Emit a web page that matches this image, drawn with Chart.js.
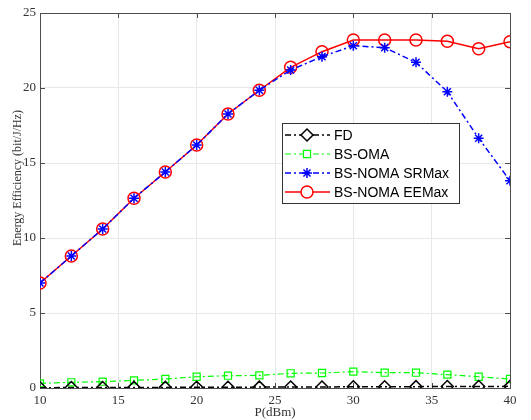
<!DOCTYPE html>
<html>
<head>
<meta charset="utf-8">
<script src="https://cdn.jsdelivr.net/npm/chart.js@4/dist/chart.umd.min.js"></script>
<style>
  body { margin: 0; background: #fff; }
  #wrap { width: 531px; height: 420px; }
</style>
</head>
<body>
<div id="wrap"><canvas id="chart"></canvas></div>
<script>
const power = [10, 12, 14, 16, 18, 20, 22, 24, 26, 28, 30, 32, 34, 36, 38, 40];
const fd = [0.02, 0.03, 0.03, 0.04, 0.04, 0.05, 0.05, 0.06, 0.07, 0.07, 0.08, 0.08, 0.09, 0.10, 0.10, 0.11];
const bsOma = [0.31, 0.38, 0.42, 0.51, 0.60, 0.75, 0.82, 0.84, 0.98, 1.00, 1.09, 1.02, 1.02, 0.89, 0.75, 0.60];
const srMax = [7.0, 8.8, 10.6, 12.65, 14.4, 16.2, 18.27, 19.85, 21.2, 22.09, 22.82, 22.69, 21.71, 19.75, 16.65, 13.82];
const eeMax = [7.0, 8.8, 10.6, 12.65, 14.4, 16.2, 18.27, 19.85, 21.38, 22.42, 23.2, 23.2, 23.2, 23.12, 22.62, 23.09];
const xTicks = [10, 15, 20, 25, 30, 35, 40];
const yTicks = [0, 5, 10, 15, 20, 25];

const dashDot = [6, 3, 2, 3];
const serif = "'Liberation Serif', 'Times New Roman', serif";

const pts = (ys) => power.map((x, i) => ({ x: x, y: ys[i] }));

// MATLAB-like box with inward ticks, plus the y label
const boxPlugin = {
    id: 'box',
    beforeDatasetsDraw(chart) {
        const { ctx, chartArea: a, scales } = chart;
        ctx.save();
        ctx.strokeStyle = '#4d4d4d';
        ctx.lineWidth = 1;
        ctx.strokeRect(a.left + 0.5, a.top + 0.5, a.right - a.left, a.bottom - a.top);
        xTicks.forEach(t => {
            const px = Math.round(scales.x.getPixelForValue(t)) + 0.5;
            ctx.beginPath();
            ctx.moveTo(px, a.bottom); ctx.lineTo(px, a.bottom - 5);
            ctx.moveTo(px, a.top); ctx.lineTo(px, a.top + 5);
            ctx.stroke();
        });
        yTicks.forEach(t => {
            const py = Math.round(scales.y.getPixelForValue(t)) + 0.5;
            ctx.beginPath();
            ctx.moveTo(a.left, py); ctx.lineTo(a.left + 5, py);
            ctx.moveTo(a.right, py); ctx.lineTo(a.right - 5, py);
            ctx.stroke();
        });
        ctx.translate(18, 178);
        ctx.rotate(-Math.PI / 2);
        ctx.fillStyle = '#333';
        ctx.font = '12px ' + serif;
        ctx.textAlign = 'center';
        ctx.textBaseline = 'middle';
        ctx.fillText('Energy Efficiency (bit/J/Hz)', 0, 0);
        ctx.restore();
    }
};

const legendPlugin = {
    id: 'boxLegend',
    afterDraw(chart) {
        const ctx = chart.ctx;
        const x0 = 282, y0 = 123, w = 177, h = 80;
        ctx.save();
        ctx.fillStyle = '#fff';
        ctx.fillRect(x0, y0, w, h);
        ctx.strokeStyle = '#333';
        ctx.lineWidth = 1;
        ctx.strokeRect(x0 + 0.5, y0 + 0.5, w, h);
        ctx.font = "14px 'Liberation Sans', Arial, sans-serif";
        ctx.textBaseline = 'middle';
        chart.data.datasets.forEach((ds, i) => {
            const y = y0 + 12 + i * 19;
            ctx.strokeStyle = ds.borderColor;
            ctx.lineWidth = ds.borderWidth;
            ctx.setLineDash(ds.borderDash || []);
            ctx.beginPath();
            ctx.moveTo(x0 + 3, y); ctx.lineTo(x0 + 48, y);
            ctx.stroke();
            ctx.setLineDash([]);
            ctx.fillStyle = '#fff';
            ctx.lineWidth = ds.pointBorderWidth;
            Chart.helpers.drawPoint(ctx, {
                pointStyle: ds.pointStyle, radius: ds.pointRadius, borderWidth: ds.pointBorderWidth, rotation: 0
            }, x0 + 25, y);
            ctx.fillStyle = '#000';
            ctx.fillText(ds.label, x0 + 52, y + 1);
        });
        ctx.restore();
    }
};

const ctx = document.getElementById('chart').getContext('2d');
const chart = new Chart(ctx, {
    type: 'line',
    data: {
        datasets: [{
            label: 'FD',
            data: pts(fd),
            borderColor: '#000000',
            backgroundColor: 'rgba(0,0,0,0)',
            borderWidth: 1.5,
            borderDash: dashDot,
            pointStyle: 'rectRot',
            pointRadius: 6,
            pointBorderWidth: 1.5
        }, {
            label: 'BS-OMA',
            data: pts(bsOma),
            borderColor: '#00ff00',
            backgroundColor: 'rgba(0,0,0,0)',
            borderWidth: 1.2,
            borderDash: dashDot,
            pointStyle: 'rect',
            pointRadius: 5,
            pointBorderWidth: 1.2
        }, {
            label: 'BS-NOMA SRMax',
            data: pts(srMax),
            borderColor: '#0000ff',
            backgroundColor: 'rgba(0,0,0,0)',
            borderWidth: 1.5,
            borderDash: dashDot,
            pointStyle: 'star',
            pointRadius: 5,
            pointBorderWidth: 1.5
        }, {
            label: 'BS-NOMA EEMax',
            data: pts(eeMax),
            borderColor: '#ff0000',
            backgroundColor: 'rgba(0,0,0,0)',
            borderWidth: 1.5,
            pointStyle: 'circle',
            pointRadius: 6,
            pointBorderWidth: 1.5
        }]
    },
    options: {
        responsive: true,
        maintainAspectRatio: false,
        animation: false,
        events: [],
        layout: { padding: { left: 0, right: 21, top: 13, bottom: 0 } },
        plugins: {
            legend: { display: false },
            tooltip: { enabled: false }
        },
        scales: {
            x: {
                type: 'linear',
                min: 10,
                max: 40,
                afterBuildTicks: (s) => { s.ticks = xTicks.map(v => ({ value: v })); },
                afterFit: (s) => { s.height = 32; },
                border: { display: false },
                grid: { color: '#e8e8e8', drawTicks: false },
                ticks: { color: '#333', padding: 5, font: { family: serif, size: 13 } },
                title: { display: true, text: 'P(dBm)', color: '#333', padding: { top: 1, bottom: 0 }, font: { family: serif, size: 13 } }
            },
            y: {
                min: 0,
                max: 25,
                afterBuildTicks: (s) => { s.ticks = yTicks.map(v => ({ value: v })); },
                afterFit: (s) => { s.width = 40; },
                border: { display: false },
                grid: { color: '#e8e8e8', drawTicks: false },
                ticks: { color: '#333', padding: 4, font: { family: serif, size: 13 } }
            }
        }
    },
    plugins: [boxPlugin, legendPlugin]
});
</script>
</body>
</html>
